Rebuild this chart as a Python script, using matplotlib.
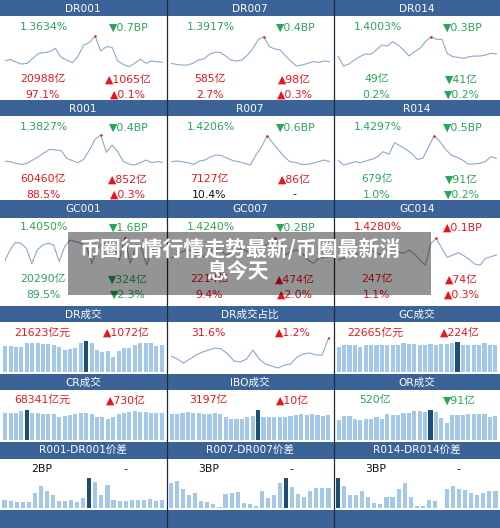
import matplotlib
matplotlib.use('Agg')
import matplotlib.pyplot as plt
from matplotlib.patches import Rectangle
import numpy as np

plt.rcParams['font.family'] = ['DejaVu Sans', 'Noto Sans CJK SC']

# ---------------- data ----------------
rate_titles = ['DR001', 'DR007', 'DR014', 'R001', 'R007', 'R014', 'GC001', 'GC007', 'GC014']

dr001 = [17, 22, 14, 8, 10, 25, 40, 42, 45, 55, 28, 20, 12, 32, 65, 72, 92, 47, 60, 58, 17, 7, 0, 10, 23, 10, 17, 15, 13]
dr007 = [10, 7, 5, 5, 10, 20, 23, 37, 43, 43, 32, 20, 17, 20, 35, 55, 82, 90, 60, 53, 50, 32, 15, 2, 5, 10, 15, 13, 17, 15]
dr014 = [32, 2, 8, 20, 30, 38, 37, 50, 65, 62, 75, 65, 50, 32, 45, 55, 75, 90, 82, 82, 40, 30, 28, 25, 30, 32, 32, 35, 40, 38]
r001 = [17, 15, 10, 7, 10, 20, 30, 42, 52, 50, 48, 25, 18, 12, 22, 50, 82, 95, 43, 65, 45, 15, 8, 5, 12, 20, 12, 15, 13]
r007 = [15, 17, 15, 12, 7, 17, 20, 30, 35, 33, 25, 18, 15, 10, 5, 35, 60, 93, 70, 50, 30, 15, 13, 7, 7, 10, 15, 20, 15]
r014 = [20, 5, 10, 15, 12, 18, 22, 30, 45, 37, 72, 62, 52, 40, 22, 25, 60, 93, 75, 52, 35, 28, 20, 8, 8, 10, 15, 30, 25]
gc001 = [15, 50, 73, 70, 55, 10, 50, 65, 70, 65, 15, 60, 80, 75, 70, 60, 10, 55, 70, 72, 65, 20, 85, 10, 55, 60, 5, 50, 60, 55]
gc007 = [25, 35, 45, 50, 48, 40, 30, 45, 55, 50, 35, 40, 48, 55, 45, 38, 50, 60, 70, 87, 60, 35, 45, 50, 40, 22, 10, 25, 28, 30]
gc014 = [20, 25, 30, 40, 35, 45, 50, 42, 35, 50, 55, 45, 40, 50, 38, 20, 5, 70, 85, 55, 28, 35, 42, 33, 22, 8, 5, 25, 30, 35]
rate_series = [dr001, dr007, dr014, r001, r007, r014, gc001, gc007, gc014]

# (text, colour code) : rate, rate change, volume, volume change, share, share change
rate_stats = [
    [('1.3634%', 'g'), ('▼0.7BP', 'g'), ('20988亿', 'r'), ('▲1065亿', 'r'), ('97.1%', 'r'), ('▲0.1%', 'r')],
    [('1.3917%', 'g'), ('▼0.4BP', 'g'), ('585亿', 'r'), ('▲98亿', 'r'), ('2.7%', 'r'), ('▲0.3%', 'r')],
    [('1.4003%', 'g'), ('▼0.3BP', 'g'), ('49亿', 'g'), ('▼41亿', 'g'), ('0.2%', 'g'), ('▼0.2%', 'g')],
    [('1.3827%', 'g'), ('▼0.4BP', 'g'), ('60460亿', 'r'), ('▲852亿', 'r'), ('88.5%', 'r'), ('▲0.3%', 'r')],
    [('1.4206%', 'g'), ('▼0.6BP', 'g'), ('7127亿', 'r'), ('▲86亿', 'r'), ('10.4%', 'k'), ('-', 'k')],
    [('1.4297%', 'g'), ('▼0.5BP', 'g'), ('679亿', 'g'), ('▼91亿', 'g'), ('1.0%', 'g'), ('▼0.2%', 'g')],
    [('1.4050%', 'g'), ('▼1.6BP', 'g'), ('20290亿', 'g'), ('▼324亿', 'g'), ('89.5%', 'g'), ('▼2.3%', 'g')],
    [('1.4240%', 'g'), ('▼0.2BP', 'g'), ('2214亿', 'r'), ('▲474亿', 'r'), ('9.4%', 'r'), ('▲2.0%', 'r')],
    [('1.4280%', 'r'), ('▲0.1BP', 'r'), ('247亿', 'r'), ('▲74亿', 'r'), ('1.1%', 'r'), ('▲0.3%', 'r')],
]

vol_titles = ['DR成交', 'DR成交占比', 'GC成交', 'CR成交', 'IBO成交', 'OR成交']
vol_stats = [
    [('21623亿元', 'r'), ('▲1072亿', 'r')],
    [('31.6%', 'r'), ('▲1.2%', 'r')],
    [('22665亿元', 'r'), ('▲224亿', 'r')],
    [('68341亿元', 'r'), ('▲730亿', 'r')],
    [('3197亿', 'r'), ('▲10亿', 'r')],
    [('520亿', 'g'), ('▼91亿', 'g')],
]
dr_vol = [78, 78, 76, 74, 88, 88, 88, 84, 84, 82, 74, 67, 68, 72, 88, 92, 87, 66, 60, 62, 44, 62, 72, 72, 82, 86, 88, 86, 77, 82]
dr_vol_hi = 15
dr_share = [16, 13, 9, 13, 17, 20, 22, 24, 23, 18, 11, 10, 13, 22, 13, 8, 6, 4, 7, 8, 15, 18, 19, 17, 17, 34]
gc_vol = [76, 82, 80, 80, 76, 80, 82, 80, 80, 82, 80, 80, 86, 84, 84, 82, 82, 84, 80, 84, 84, 86, 90, 82, 82, 82, 82, 88, 82, 82]
gc_vol_hi = 22
cr_vol = [82, 82, 82, 87, 90, 82, 80, 77, 77, 77, 70, 72, 74, 77, 80, 82, 77, 70, 70, 64, 70, 77, 82, 84, 87, 84, 84, 82, 82, 82]
cr_vol_hi = 4
ibo_vol = [77, 77, 82, 84, 82, 80, 77, 77, 80, 77, 70, 64, 62, 64, 70, 72, 90, 70, 70, 68, 68, 70, 72, 74, 77, 74, 79, 74, 72, 74]
ibo_vol_hi = 16
or_vol = [60, 72, 72, 64, 60, 62, 64, 70, 64, 77, 74, 74, 82, 82, 87, 87, 84, 90, 84, 65, 50, 74, 74, 74, 77, 79, 79, 79, 70, 72]
or_vol_hi = 17

spread_titles = ['R001-DR001价差', 'R007-DR007价差', 'R014-DR014价差']
spread_stats = [('2BP', '-'), ('3BP', '-'), ('3BP', '-')]
sp001 = [25, 21, 19, 18, 17, 46, 67, 52, 38, 21, 21, 23, 19, 29, 90, 78, 40, 68, 25, 21, 21, 23, 23, 23, 27, 21, 25]
sp007 = [75, 80, 58, 40, 44, 21, 18, 13, 2, 42, 44, 48, 15, 13, 7, 52, 30, 38, 75, 90, 62, 43, 34, 52, 61, 59, 59]
sp014 = [90, 67, 38, 38, 50, 34, 14, 13, 32, 34, 58, 76, 34, 7, 7, 25, 22, 0, 58, 66, 58, 54, 46, 38, 44, 50, 50]
sp_hi = [14, 19, 0]

overlay_lines = ['币圈行情行情走势最新/币圈最新消', '息今天']

# ---------------- style ----------------
W, H = 500, 528
HEAD = '#3B6398'
LINE = '#8FA8C8'
BAR = '#A3C8EA'
BAR_HI = '#1C4E74'
COL = {'g': '#2BA55A', 'r': '#E8161B', 'k': '#111111'}
FS = 7.8

fig = plt.figure(figsize=(W / 100, H / 100), dpi=100)
bg = fig.add_axes([0, 0, 1, 1], zorder=0)
bg.set_xlim(0, W)
bg.set_ylim(H, 0)
bg.axis('off')

cols = [0, 166.5, 333.5, 500]


def pax(x0, y0, x1, y1, z=2):
    ax = fig.add_axes([x0 / W, 1 - y1 / H, (x1 - x0) / W, (y1 - y0) / H], zorder=z)
    ax.axis('off')
    ax.patch.set_alpha(0)
    return ax


def header(c, y0, y1, title):
    x0, x1 = cols[c], cols[c + 1]
    bg.add_patch(Rectangle((x0, y0), x1 - x0, y1 - y0, color=HEAD, lw=0))
    bg.text((x0 + x1) / 2, (y0 + y1) / 2 + 0.5, title, color='white', fontsize=7.6,
            ha='center', va='center')


def stat(c, rel, y, item):
    txt, cc = item
    bg.text(cols[c] + rel, y, txt, color=COL[cc], fontsize=FS, ha='center', va='center')


# rate panels (rows 1-3)
row_tops = [0, 100, 200]
head_h = [16, 16, 17.5]
for i, (title, ser, st) in enumerate(zip(rate_titles, rate_series, rate_stats)):
    r, c = divmod(i, 3)
    top = row_tops[r]
    header(c, top, top + head_h[r], title)
    stat(c, 44, top + 27.5, st[0])
    stat(c, 129, top + 27.5, st[1])
    stat(c, 43, top + 79, st[2])
    stat(c, 128, top + 79, st[3])
    stat(c, 43, top + 94.5, st[4])
    stat(c, 128, top + 94.5, st[5])
    ax = pax(cols[c] + 4.5, top + 33.3, cols[c] + 163, top + 66.7)
    x = np.arange(len(ser))
    ax.plot(x, ser, color=LINE, lw=0.8)
    k = int(np.argmax(ser))
    ax.plot([k], [ser[k]], 'o', color='#E02020', ms=1.8, mec='none')
    ax.set_xlim(0, len(ser) - 1)
    ax.set_ylim(0, 100)

# volume panels (rows 4-5)
vol_rows = [(306, 321.5, 332.5, 372), (374, 389.5, 400, 440)]
bar_sets = [(dr_vol, dr_vol_hi), None, (gc_vol, gc_vol_hi),
            (cr_vol, cr_vol_hi), (ibo_vol, ibo_vol_hi), (or_vol, or_vol_hi)]
for i, (title, st) in enumerate(zip(vol_titles, vol_stats)):
    r, c = divmod(i, 3)
    hy0, hy1, ty, by = vol_rows[r]
    header(c, hy0, hy1, title)
    stat(c, 42, ty, st[0])
    stat(c, 126, ty, st[1])
    if bar_sets[i] is None:
        ax = pax(cols[c] + 4.5, by - 37, cols[c] + 162, by + 3)
        x = np.arange(len(dr_share))
        ax.plot(x, dr_share, color=LINE, lw=0.8)
        ax.plot([x[-1]], [dr_share[-1]], 'o', color='#E02020', ms=1.8, mec='none')
        ax.set_xlim(0, len(dr_share) - 1)
        ax.set_ylim(-3, 37)
    else:
        vals, hi = bar_sets[i]
        ax = pax(cols[c] + 2.5, by - 33.3, cols[c] + 164.5, by)
        x = np.arange(len(vals))
        colors = [BAR_HI if j == hi else BAR for j in range(len(vals))]
        ax.bar(x, vals, width=0.76, color=colors, lw=0)
        ax.set_xlim(-0.5, len(vals) - 0.5)
        ax.set_ylim(0, 100)

# spread panels (row 6)
for c, (title, st, vals, hi) in enumerate(zip(spread_titles, spread_stats,
                                               [sp001, sp007, sp014], sp_hi)):
    header(c, 442, 458.5, title)
    bg.text(cols[c] + 42, 469.5, st[0], color=COL['k'], fontsize=FS, ha='center', va='center')
    bg.text(cols[c] + 125, 469.5, st[1], color=COL['k'], fontsize=FS, ha='center', va='center')
    ax = pax(cols[c] + 1.5, 508 - 33.3, cols[c] + 165, 508)
    x = np.arange(len(vals))
    colors = [BAR_HI if j == hi else BAR for j in range(len(vals))]
    ax.bar(x, vals, width=0.68, color=colors, lw=0)
    ax.set_xlim(-0.5, len(vals) - 0.5)
    ax.set_ylim(0, 100)
    bg.add_patch(Rectangle((cols[c], 510), cols[c + 1] - cols[c], 18, color=HEAD, lw=0))

# vertical dividers
for xv in cols[1:3]:
    bg.plot([xv, xv], [0, H], color='#1e2a38', lw=0.9)

# overlay
top = pax(0, 0, W, H, z=20)
top.set_xlim(0, W)
top.set_ylim(H, 0)
top.add_patch(Rectangle((68, 232), 363, 63, color='black', alpha=0.42, lw=0))
top.text(240, 249, overlay_lines[0], color='white', fontsize=15, fontweight='bold',
         ha='center', va='center', family=['Noto Sans CJK SC', 'DejaVu Sans'])
top.text(238, 271, overlay_lines[1], color='white', fontsize=15, fontweight='bold',
         ha='center', va='center', family=['Noto Sans CJK SC', 'DejaVu Sans'])

fig.savefig('out.png', dpi=100)
